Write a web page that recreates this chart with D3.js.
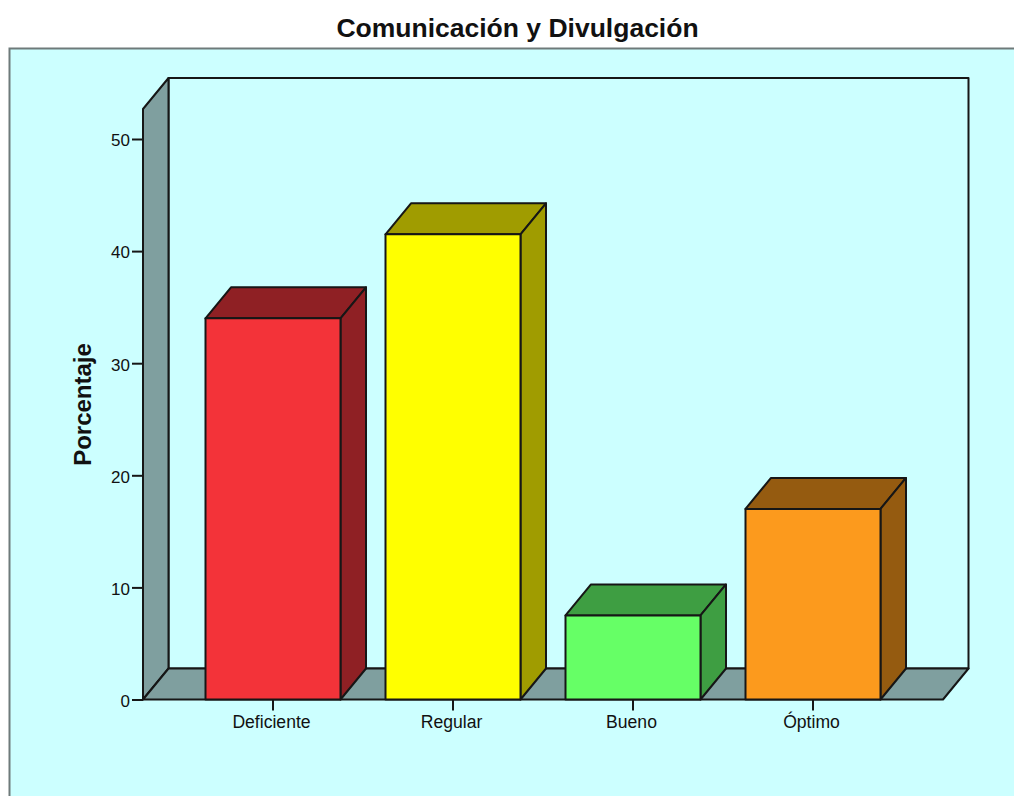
<!DOCTYPE html>
<html>
<head>
<meta charset="utf-8">
<script src="https://cdn.jsdelivr.net/npm/d3@7"></script>
<style>
    html, body { margin: 0; padding: 0; background: #fff; overflow: hidden; }
    svg { display: block; }
    text { font-family: "Liberation Sans", Arial, sans-serif; fill: #111; }
</style>
</head>
<body>
<svg id="chart" width="1014" height="796"></svg>
<script>
// values
const categories = ["Deficiente", "Regular", "Bueno", "Óptimo"];
const percentages = [34.0, 41.5, 7.5, 17.0];
const frontColors = ["#f33339", "#ffff00", "#66ff66", "#fc9a1d"];
const sideColors = ["#8f2024", "#a09c00", "#3e9e42", "#955b10"];
const yTicks = [0, 10, 20, 30, 40, 50];

const svg = d3.select("#chart");

// plot geometry
const left = 143, right = 943, y0 = 699.5;
const depthX = 25.5, depthY = -31; // offset of the back wall
const wallColor = "#7f9f9f", bgColor = "#ccffff", lineColor = "#161616";

const yScale = d3.scaleLinear().domain([0, 50]).range([y0, 139]);
const xScale = d3.scaleBand().domain(categories)
    .range([183, 903]).paddingInner(0.25).paddingOuter(0.125);
const yMax = yScale.invert(109); // top of the front edge of the wall

const poly = (g, pts, fill) => g.append("polygon")
    .attr("points", pts.map(p => p.join(",")).join(" "))
    .attr("fill", fill)
    .attr("stroke", lineColor)
    .attr("stroke-width", 2)
    .attr("stroke-linejoin", "round");

// outer panel
svg.append("rect")
    .attr("x", 9.5).attr("y", 48.5)
    .attr("width", 1030).attr("height", 800)
    .attr("fill", bgColor)
    .attr("stroke", "#6e7a7a").attr("stroke-width", 2);

// title
svg.append("text")
    .attr("x", 517.5).attr("y", 37)
    .attr("text-anchor", "middle")
    .attr("font-size", 26.5).attr("font-weight", "bold")
    .text("Comunicación y Divulgación");

// walls and floor
const walls = svg.append("g");
const yTop = yScale(yMax);
poly(walls, [[left + depthX, y0 + depthY], [right + depthX, y0 + depthY],
    [right + depthX, yTop + depthY], [left + depthX, yTop + depthY]], bgColor);
poly(walls, [[left, y0], [left + depthX, y0 + depthY],
    [left + depthX, yTop + depthY], [left, yTop]], wallColor);
poly(walls, [[left, y0], [right, y0],
    [right + depthX, y0 + depthY], [left + depthX, y0 + depthY]], wallColor);

// y axis
const yAxis = svg.append("g")
    .attr("transform", "translate(" + left + ",0)")
    .call(d3.axisLeft(yScale).tickValues(yTicks).tickSize(11).tickPadding(2).tickFormat(d3.format("d")));
yAxis.select(".domain").remove();
yAxis.selectAll("line").attr("stroke", lineColor).attr("stroke-width", 2);
yAxis.selectAll("text").attr("font-size", 17).attr("fill", "#111").attr("dy", "0.4em");

// x axis
const xAxis = svg.append("g")
    .attr("transform", "translate(0," + y0 + ")")
    .call(d3.axisBottom(xScale).tickSize(11).tickPadding(5));
xAxis.select(".domain").remove();
xAxis.selectAll("line").attr("stroke", lineColor).attr("stroke-width", 2);
xAxis.selectAll("text").attr("font-size", 17.6).attr("fill", "#111")
    .attr("dx", -1.5);

// bars
categories.forEach((c, i) => {
    const g = svg.append("g").attr("class", "bar");
    const x1 = xScale(c), x2 = x1 + xScale.bandwidth(), yT = yScale(percentages[i]);
    poly(g, [[x1, yT], [x2, yT], [x2 + depthX, yT + depthY], [x1 + depthX, yT + depthY]], sideColors[i]);
    poly(g, [[x2, y0], [x2 + depthX, y0 + depthY], [x2 + depthX, yT + depthY], [x2, yT]], sideColors[i]);
    poly(g, [[x1, y0], [x2, y0], [x2, yT], [x1, yT]], frontColors[i]);
});

// y axis title
svg.append("text")
    .attr("transform", "translate(91,404.5) rotate(-90)")
    .attr("text-anchor", "middle")
    .attr("font-size", 24).attr("font-weight", "bold")
    .text("Porcentaje");
</script>
</body>
</html>
